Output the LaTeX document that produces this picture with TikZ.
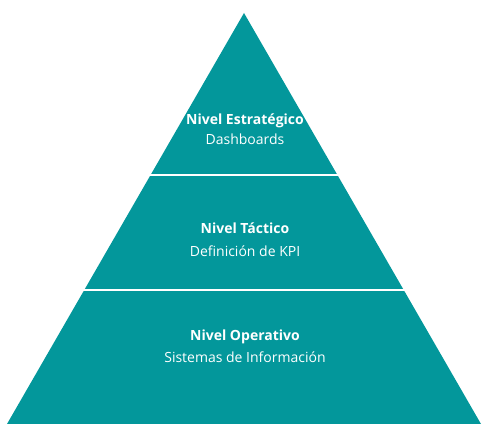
\documentclass[tikz,border=0pt]{standalone}
\usepackage{fontspec}
\setmainfont{Open Sans}
\definecolor{PyrTeal}{HTML}{03979B}
\usetikzlibrary{positioning}

\begin{document}
\begin{tikzpicture}[x=1pt,y=1pt,
    titletext/.style={white,font=\fontsize{14}{16}\selectfont\bfseries},
    subtext/.style={white,font=\fontsize{14}{16}\selectfont}]
    \useasboundingbox (0,0) rectangle (491,440);

    % Pyramid body
    \fill[PyrTeal] (7,16) -- (244,427) -- (481,16) -- cycle;

    % Level separators
    \draw[white,line width=2pt] (0,265) -- (491,265);
    \draw[white,line width=2pt] (0,150) -- (491,150);

    % Strategic level
    \node[titletext] (estrat) at (245,319) {Nivel Estratégico};
    \node[subtext] (dash) at (245,301) {Dashboards};

    % Tactical level
    \node[titletext] (tact) at (245,212) {Nivel Táctico};
    \node[subtext] (kpi) at (245,189) {Definición de KPI};

    % Operational level
    \node[titletext] (oper) at (245,103) {Nivel Operativo};
    \node[subtext] (info) at (245,83) {Sistemas de Información};
\end{tikzpicture}
\end{document}
